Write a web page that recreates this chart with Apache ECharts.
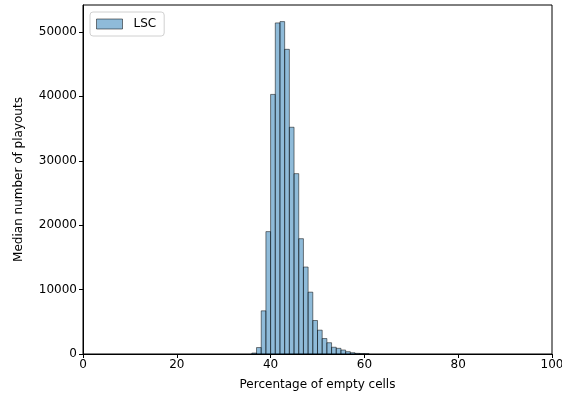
<!DOCTYPE html>
<html>
<head>
<meta charset="utf-8">
<script src="https://cdn.jsdelivr.net/npm/echarts@6/dist/echarts.min.js"></script>
<style>
  html, body { margin: 0; padding: 0; background: #fff; }
  #chart { width: 562px; height: 400px; }
</style>
</head>
<body>
<div id="chart"></div>
<script>
// histogram bins (left edge, width 1) and counts
var binStarts = [36, 37, 38, 39, 40, 41, 42, 43, 44, 45, 46, 47, 48, 49, 50, 51, 52, 53, 54, 55, 56, 57, 58, 59, 60];
var counts = [150, 1000, 6700, 19000, 40300, 51400, 51600, 47300, 35200, 28000, 17900, 13500, 9600, 5200, 3700, 2400, 1750, 1050, 880, 620, 360, 200, 100, 60, 30];
var binWidth = 1;
var seriesName = 'LSC';

var data = binStarts.map(function (x, i) { return [x, x + binWidth, counts[i]]; });

var chart = echarts.init(document.getElementById('chart'));

var font = 'DejaVu Sans';
chart.setOption({
    animation: false,
    textStyle: { fontFamily: font },
    grid: {
        left: 83, right: 10, top: 5, bottom: 46,
        outerBoundsMode: 'none',
        show: true, borderColor: '#000', borderWidth: 1, backgroundColor: 'transparent'
    },
    legend: {
        data: [{ name: seriesName, icon: 'rect' }],
        left: 90, top: 12,
        itemWidth: 26, itemHeight: 10,
        padding: [6, 8, 6, 6],
        borderColor: '#d0d0d0', borderWidth: 1, borderRadius: 3,
        backgroundColor: 'rgba(255,255,255,0.8)',
        itemStyle: { color: 'rgba(31,119,180,0.5)', borderColor: 'rgba(0,0,0,0.5)', borderWidth: 1 },
        textStyle: { fontSize: 12, color: '#000', fontFamily: font, padding: [0, 0, 0, 6] }
    },
    xAxis: {
        type: 'value',
        min: 0, max: 100, interval: 20,
        name: 'Percentage of empty cells',
        nameLocation: 'middle', nameGap: 25,
        nameTextStyle: { fontSize: 12, color: '#000' },
        axisLine: { show: true, lineStyle: { color: '#000' } },
        axisTick: { show: true, length: 4, lineStyle: { color: '#000' } },
        axisLabel: { fontSize: 12, color: '#000', margin: 5 },
        splitLine: { show: false }
    },
    yAxis: {
        type: 'value',
        min: 0, max: 54180, interval: 10000,
        name: 'Median number of playouts',
        nameLocation: 'middle', nameGap: 58,
        nameTextStyle: { fontSize: 12, color: '#000' },
        axisLine: { show: true, lineStyle: { color: '#000' } },
        axisTick: { show: true, length: 4, lineStyle: { color: '#000' } },
        axisLabel: {
            fontSize: 12, color: '#000', margin: 6, showMaxLabel: false,
            formatter: function (v) { return String(v); }
        },
        splitLine: { show: false }
    },
    series: [{
        name: seriesName,
        type: 'custom',
        itemStyle: { color: 'rgba(31,119,180,0.5)', borderColor: 'rgba(0,0,0,0.5)' },
        encode: { x: [0, 1], y: 2 },
        renderItem: function (params, api) {
            var p0 = api.coord([api.value(0), 0]);
            var p1 = api.coord([api.value(1), api.value(2)]);
            return {
                type: 'rect',
                shape: { x: p0[0], y: p1[1], width: p1[0] - p0[0], height: p0[1] - p1[1] },
                style: { fill: 'rgba(31,119,180,0.5)', stroke: 'rgba(0,0,0,0.5)', lineWidth: 1 }
            };
        },
        data: data
    }]
});
</script>
</body>
</html>
